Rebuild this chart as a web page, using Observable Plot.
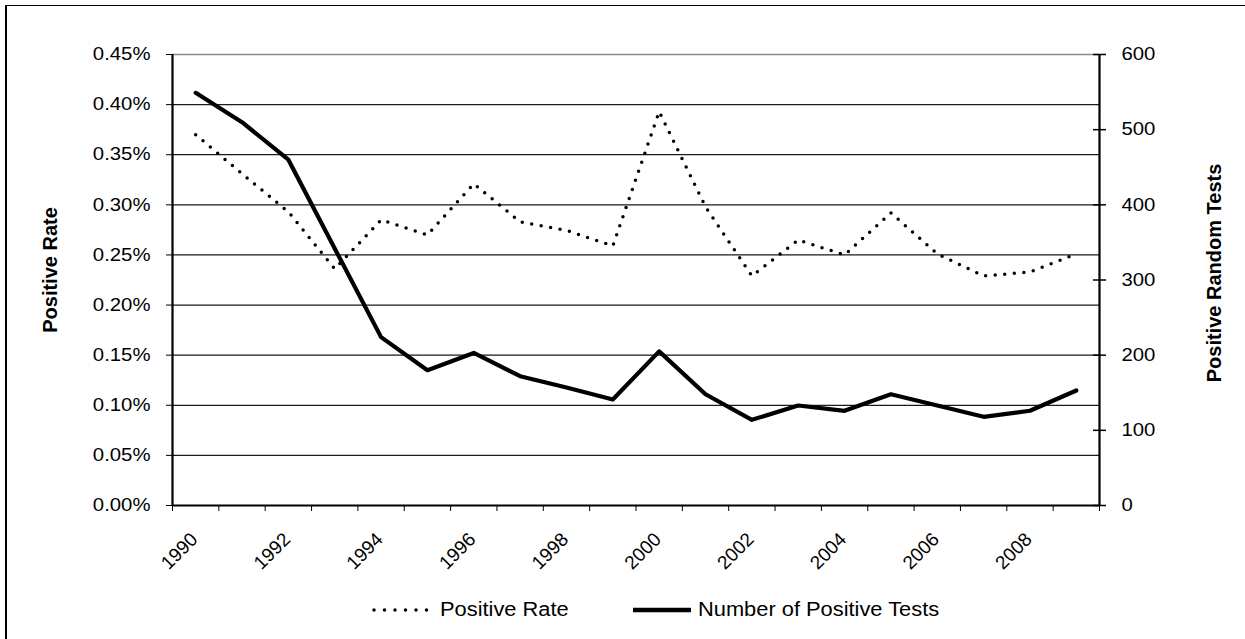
<!DOCTYPE html>
<html><head><meta charset="utf-8">
<script src="https://cdn.jsdelivr.net/npm/d3@7"></script>
<script src="https://cdn.jsdelivr.net/npm/@observablehq/plot@0.6"></script>
<style>
body{margin:0;background:#fff;}
#wrap{position:relative;width:1245px;height:639px;overflow:hidden;font-family:"Liberation Sans",Arial,sans-serif;color:#000;}
#frame{position:absolute;left:5px;top:4.5px;width:1400px;height:800px;border-left:2px solid #000;border-top:1.5px solid #000;}
#chart{position:absolute;left:0;top:0;}
.leg{position:absolute;overflow:visible;}
.legtext{position:absolute;top:600px;font-size:19.5px;line-height:19.5px;white-space:nowrap;transform-origin:left center;transform:scaleX(1.12);}
</style></head><body>
<div id="wrap"><div id="frame"></div><div id="chart"></div>
<svg class="leg" style="left:370px;top:604px" width="62" height="12"><line x1="4" x2="57" y1="6" y2="6" stroke="#000" stroke-width="3.5" stroke-linecap="round" stroke-dasharray="0 10.5"/></svg>
<div class="legtext" id="leg1" style="left:440px"></div>
<svg class="leg" style="left:633px;top:604px" width="60" height="12"><line x1="0" x2="58" y1="6" y2="6" stroke="#000" stroke-width="4.5"/></svg>
<div class="legtext" id="leg2" style="left:698px"></div>
</div>
<script>
const years = [1990,1991,1992,1993,1994,1995,1996,1997,1998,1999,2000,2001,2002,2003,2004,2005,2006,2007,2008,2009];
// Positive rate, in percent
const positiveRate = [0.370,0.331,0.293,0.236,0.285,0.270,0.321,0.283,0.2745,0.259,0.393,0.298,0.229,0.265,0.250,0.292,0.251,0.229,0.233,0.251];
// Number of positive tests
const positiveTests = [549,510,460,342,224,180,203,172,157,141,205,148,114,133,126,148,133,118,126,153];
const leftTicks = [0,0.05,0.10,0.15,0.20,0.25,0.30,0.35,0.40,0.45];
const rightTicks = [0,100,200,300,400,500,600];
const yearLabels = [1990,1992,1994,1996,1998,2000,2002,2004,2006,2008];
const seriesNames = ["Positive Rate","Number of Positive Tests"];
const axisTitles = ["Positive Rate","Positive Random Tests"];

const leftMax = leftTicks[leftTicks.length-1];
const rightMax = rightTicks[rightTicks.length-1];
const toLeft = v => v * leftMax / rightMax;
const edges = years.map(y => y - 0.5).concat([years[years.length-1] + 0.5]);
const edgeL = edges[0], edgeR = edges[edges.length-1];

const rateData = years.map((y,i) => ({year:y, v:positiveRate[i]}));
const testData = years.map((y,i) => ({year:y, v:toLeft(positiveTests[i])}));

const chart = Plot.plot({
  width:1245, height:585,
  marginLeft:172, marginRight:146, marginTop:54, marginBottom:80,
  style:{fontFamily:'"Liberation Sans", Arial, sans-serif', fontSize:"18px", color:"#000", background:"transparent", overflow:"visible"},
  x:{type:"linear", domain:[edgeL, edgeR], ticks:edges, tickFormat:()=>"", tickSize:6, label:null},
  y:{domain:[0, leftMax], ticks:leftTicks, tickFormat:d=>d.toFixed(2)+"%", tickSize:6, tickPadding:16, label:null},
  marks:[
    Plot.ruleY(leftTicks.filter(d => d > 0 && d < leftMax), {stroke:"#1a1a1a", strokeWidth:1.3}),
    Plot.ruleY([leftMax], {stroke:"#8a8a8a", strokeWidth:1.5}),
    Plot.ruleX([edgeL], {stroke:"#000", strokeWidth:2.2}),
    Plot.ruleX([edgeR], {stroke:"#000", strokeWidth:2.2}),
    Plot.ruleY([0], {stroke:"#000", strokeWidth:2.2}),
    Plot.ruleY(rightTicks.map(toLeft), {x1:edgeR, x2:edgeR, insetLeft:-6, insetRight:-7, stroke:"#000", strokeWidth:1.5}),
    Plot.text(rightTicks, {y:toLeft, text:d=>String(d), frameAnchor:"right", dx:22, textAnchor:"start", fontSize:18}),
    Plot.text(yearLabels, {x:d=>d, text:d=>String(d), frameAnchor:"bottom", dx:3, dy:35, rotate:-45, textAnchor:"end", lineAnchor:"bottom", fontSize:19}),
    Plot.text([axisTitles[0]], {text:d=>d, frameAnchor:"left", dx:-116, dy:-10, rotate:-90, textAnchor:"middle", lineAnchor:"bottom", fontWeight:"bold", fontSize:20}),
    Plot.text([axisTitles[1]], {text:d=>d, frameAnchor:"right", dx:121, dy:-7, rotate:-90, textAnchor:"middle", lineAnchor:"bottom", fontWeight:"bold", fontSize:20}),
    Plot.line(rateData, {x:"year", y:"v", stroke:"#000", strokeWidth:3.5, strokeDasharray:"0 9.6", strokeLinecap:"round"}),
    Plot.line(testData, {x:"year", y:"v", stroke:"#000", strokeWidth:4.2})
  ]
});
document.getElementById("chart").append(chart);
for (const t of chart.querySelectorAll("text")) {
  const tr = t.getAttribute("transform") || "";
  if (tr.includes("rotate") || !t.textContent) continue;
  const L = t.getComputedTextLength();
  t.setAttribute("textLength", L * 1.13);
  t.setAttribute("lengthAdjust", "spacingAndGlyphs");
}
document.getElementById("leg1").textContent = seriesNames[0];
document.getElementById("leg2").textContent = seriesNames[1];
</script>
</body></html>
